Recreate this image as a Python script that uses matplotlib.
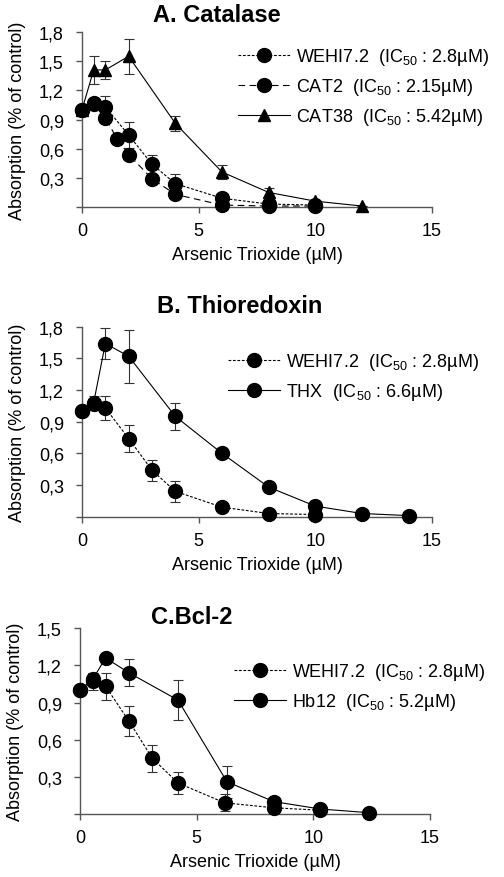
import matplotlib
matplotlib.use("Agg")
import matplotlib.pyplot as plt

plt.rcParams["font.family"] = ["Liberation Sans", "DejaVu Sans"]
plt.rcParams["mathtext.fontset"] = "custom"
plt.rcParams["mathtext.rm"] = "Liberation Sans"

# ── Data ──────────────────────────────────────────────────────────────────────
# Panel A : Catalase
wehi_x = [0, 0.5, 1, 2, 3, 4, 6, 8, 10]
wehi_y = [1.0, 1.07, 1.03, 0.74, 0.44, 0.24, 0.09, 0.03, 0.02]
wehi_err = [0, 0.05, 0.11, 0.13, 0.10, 0.10, 0.03, 0.01, 0.01]

cat2_x = [0, 0.5, 1, 1.5, 2, 3, 4, 6, 8, 10]
cat2_y = [1.0, 1.06, 0.92, 0.70, 0.54, 0.29, 0.13, 0.02, 0.01, 0.01]
cat2_err = [0, 0.03, 0.04, 0.03, 0.04, 0.03, 0.03, 0.01, 0.01, 0.01]

cat38_x = [0, 0.5, 1, 2, 4, 6, 8, 10, 12]
cat38_y = [1.0, 1.41, 1.41, 1.55, 0.86, 0.36, 0.15, 0.06, 0.01]
cat38_err = [0, 0.14, 0.09, 0.18, 0.08, 0.07, 0.05, 0.0, 0.0]

# Panel B : Thioredoxin
thx_x = [0, 0.5, 1, 2, 4, 6, 8, 10, 12, 14]
thx_y = [1.0, 1.08, 1.64, 1.52, 0.95, 0.60, 0.28, 0.10, 0.03, 0.01]
thx_err = [0, 0.06, 0.15, 0.25, 0.13, 0.04, 0.04, 0.02, 0.01, 0.0]

# Panel C : Bcl-2
wehic_x = [0, 0.55, 1.1, 2.1, 3.1, 4.2, 6.2, 8.3, 10.3]
wehic_y = [1.0, 1.07, 1.03, 0.75, 0.45, 0.25, 0.09, 0.05, 0.03]
wehic_err = [0, 0.07, 0.11, 0.12, 0.11, 0.09, 0.07, 0.01, 0.01]

hb12_x = [0, 0.55, 1.1, 2.1, 4.2, 6.3, 8.3, 10.3, 12.4]
hb12_y = [1.0, 1.09, 1.26, 1.14, 0.92, 0.26, 0.10, 0.04, 0.01]
hb12_err = [0, 0.05, 0.0, 0.11, 0.16, 0.13, 0.01, 0.01, 0.0]

x_ticks = [0, 5, 10, 15]
y_ticks_a = [0, 0.3, 0.6, 0.9, 1.2, 1.5, 1.8]
y_ticks_c = [0, 0.3, 0.6, 0.9, 1.2, 1.5]

SUB = r"$_{\mathregular{50}}$"
SPINE = "#555555"
FS = 13


def series(ax, x, y, err, marker, ls, label):
    # barres d'erreur à part, pour garder la légende sans barres
    ax.errorbar(x, y, yerr=err, fmt="none", ecolor="#333333",
                elinewidth=0.8, capsize=3.5, capthick=0.8, clip_on=False,
                zorder=2)
    ax.plot(x, y, color="black", marker=marker,
            markersize=10 if marker == "o" else 9,
            linestyle=ls, linewidth=0.8, label=label, clip_on=False,
            zorder=3)


def style(ax, y_ticks):
    ax.set_xlim(0, 15)
    ax.set_ylim(0, y_ticks[-1])
    ax.set_xticks(x_ticks)
    ax.set_yticks(y_ticks)
    ax.set_yticklabels([""] + [f"{v:.1f}".replace(".", ",") for v in y_ticks[1:]])
    for side in ("top", "right"):
        ax.spines[side].set_visible(False)
    for side in ("left", "bottom"):
        ax.spines[side].set_color(SPINE)
        ax.spines[side].set_linewidth(1.0)
    ax.tick_params(direction="out", length=4, width=1.0, color=SPINE,
                   labelsize=FS)
    ax.tick_params(axis="x", pad=7)
    ax.tick_params(axis="y", pad=9)
    ax.set_xlabel("Arsenic Trioxide (µM)", fontsize=FS, labelpad=5)
    ax.set_ylabel("Absorption (% of control)", fontsize=FS, labelpad=9)


def legend(ax, x_px, y_px):
    ax.legend(loc="upper left", bbox_to_anchor=(x_px / 504, 1 - y_px / 878),
              bbox_transform=fig.transFigure, frameon=False, fontsize=FS,
              handlelength=2.9, handletextpad=0.3, labelspacing=0.5,
              borderpad=0, borderaxespad=0)


fig = plt.figure(figsize=(5.04, 8.78), dpi=100)

# ── A ─────────────────────────────────────────────────────────────────────────
ax_a = fig.add_axes([0.1627, 0.7631, 0.6944, 0.1993])
series(ax_a, wehi_x, wehi_y, wehi_err, "o", (0, (2.5, 1.5)),
       f"WEHI7.2  (IC{SUB} : 2.8µM)")
series(ax_a, cat2_x, cat2_y, cat2_err, "o", (0, (6, 4)),
       f"CAT2  (IC{SUB} : 2.15µM)")
series(ax_a, cat38_x, cat38_y, cat38_err, "^", "-",
       f"CAT38  (IC{SUB} : 5.42µM)")
style(ax_a, y_ticks_a)
fig.text(217 / 504, 1 - 15 / 878, "A. Catalase", fontsize=17,
         fontweight="bold", ha="center", va="center")
legend(ax_a, 238, 47)

# ── B ─────────────────────────────────────────────────────────────────────────
ax_b = fig.add_axes([0.1627, 0.4104, 0.6944, 0.2164])
series(ax_b, wehi_x, wehi_y, wehi_err, "o", (0, (2.5, 1.5)),
       f"WEHI7.2  (IC{SUB} : 2.8µM)")
series(ax_b, thx_x, thx_y, thx_err, "o", "-",
       f"THX  (IC{SUB} : 6.6µM)")
style(ax_b, y_ticks_a)
fig.text(240 / 504, 1 - 307 / 878, "B. Thioredoxin", fontsize=17,
         fontweight="bold", ha="center", va="center")
legend(ax_b, 228, 352)

# ── C ─────────────────────────────────────────────────────────────────────────
ax_c = fig.add_axes([0.1587, 0.0718, 0.6944, 0.2115])
series(ax_c, wehic_x, wehic_y, wehic_err, "o", (0, (2.5, 1.5)),
       f"WEHI7.2  (IC{SUB} : 2.8µM)")
series(ax_c, hb12_x, hb12_y, hb12_err, "o", "-",
       f"Hb12  (IC{SUB} : 5.2µM)")
style(ax_c, y_ticks_c)
fig.text(192 / 504, 1 - 618 / 878, "C.Bcl-2", fontsize=17,
         fontweight="bold", ha="center", va="center")
legend(ax_c, 234, 662)

fig.savefig("out.png", dpi=100)
